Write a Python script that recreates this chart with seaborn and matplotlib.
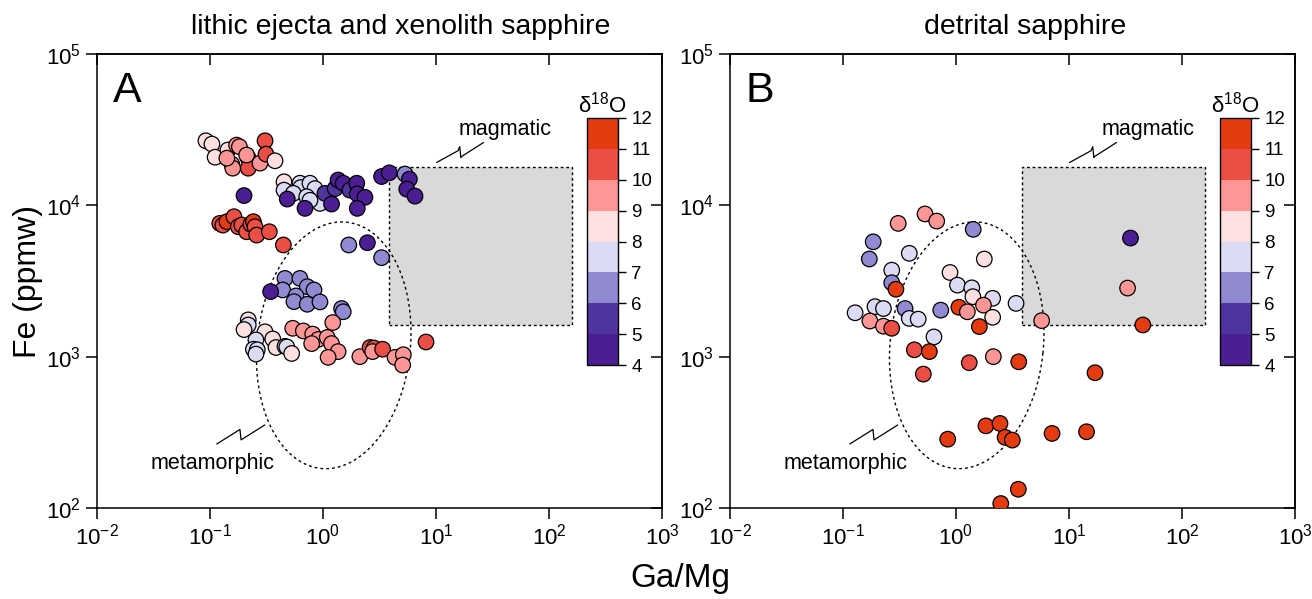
import numpy as np
import pandas as pd
import matplotlib
matplotlib.use("Agg")
import matplotlib.pyplot as plt
import seaborn as sns
from matplotlib.colors import ListedColormap, BoundaryNorm
from matplotlib.cm import ScalarMappable
from matplotlib.patches import Rectangle
from matplotlib.ticker import LogLocator, NullLocator, NullFormatter

# ---------------- data ----------------
# Panel A: lithic ejecta and xenolith sapphire
a_gamg = [0.092, 0.104, 0.111, 0.144, 0.172, 0.182, 0.156, 0.159, 0.141, 0.218, 0.218, 0.211, 0.277, 0.307, 0.313, 0.376,
          0.200,
          0.452, 0.452, 0.625, 0.635, 0.767, 0.849, 0.546, 0.718, 0.94, 0.767, 0.483, 0.693, 1.04, 1.19, 1.28, 1.36, 1.51,
          1.73, 1.99, 2.01, 2.35, 2.01, 3.30, 3.86, 5.32, 5.81, 5.51, 6.52,
          0.122, 0.130, 0.141, 0.163, 0.178, 0.191, 0.211, 0.230, 0.242, 0.250, 0.259, 0.335, 0.446,
          1.69, 2.47, 3.30,
          0.461, 0.625, 0.440, 0.344, 0.726, 0.832, 0.577, 0.553, 0.726, 0.94, 1.46, 1.51,
          1.22, 0.218, 0.218, 0.200, 0.540, 0.670, 0.307, 0.359, 0.811, 0.908, 0.794, 1.09, 1.19, 1.36, 1.11,
          0.255, 0.242, 0.262, 0.255, 0.384, 0.461, 0.478, 0.528, 2.12, 2.61, 2.83, 2.75, 3.37, 4.34, 5.14, 5.07, 8.16]
a_fe = [26700, 25400, 20800, 23200, 25000, 24400, 18700, 17600, 20500, 20500, 17600, 21500, 19000, 26700, 21800, 19700,
        11600,
        14300, 12600, 14000, 13100, 14000, 12900, 12000, 11400, 10300, 10800, 11000, 9550, 12000, 10200, 12900, 14700, 14000,
        12600, 14000, 11900, 11300, 9550, 15500, 16400, 16100, 14900, 12800, 11500,
        7600, 7400, 7800, 8410, 7220, 7410, 6690, 7500, 7800, 7220, 6360, 6690, 5470,
        5470, 5660, 4510,
        3290, 3290, 2760, 2690, 2900, 2760, 2520, 2310, 2220, 2300, 2080, 1980,
        1680, 1750, 1620, 1510, 1540, 1480, 1460, 1310, 1410, 1300, 1220, 1340, 1220, 1080, 990,
        1290, 1120, 1110, 1040, 1150, 1170, 1160, 1050, 1000, 1150, 1140, 1080, 1120, 990, 1030, 880, 1250]
a_d18o = [8.5, 8.5, 8.5, 8.5, 9.5, 9.5, 9.5, 9.5, 9.5, 9.5, 10.5, 9.5, 9.5, 10.5, 10.5, 8.5,
          4.5,
          8.5, 7.5, 7.5, 7.5, 7.5, 7.5, 7.5, 7.5, 7.5, 7.5, 4.5, 4.5, 5.5, 4.5, 5.5, 4.5, 4.5,
          5.5, 4.5, 4.5, 4.5, 4.5, 4.5, 4.5, 6.5, 4.5, 4.5, 4.5,
          10.5, 10.5, 11.5, 10.5, 10.5, 10.5, 10.5, 10.5, 11.5, 10.5, 10.5, 10.5, 10.5,
          6.5, 4.5, 6.5,
          6.5, 6.5, 6.5, 4.5, 6.5, 6.5, 6.5, 6.5, 6.5, 6.5, 6.5, 6.5,
          9.5, 8.5, 7.5, 8.5, 9.5, 9.5, 8.5, 8.5, 9.5, 9.5, 9.5, 9.5, 9.5, 9.5, 9.5,
          7.5, 7.5, 7.5, 7.5, 8.5, 7.5, 7.5, 8.5, 9.5, 10.5, 10.5, 9.5, 10.5, 9.5, 9.5, 9.5, 10.5]

# Panel B: detrital sapphire
b_gamg = [0.308, 0.532, 0.675, 1.42, 0.185, 0.171, 0.386, 1.78, 0.270, 0.885, 0.270, 0.294, 1.03, 1.38, 1.41, 2.11,
          3.40, 1.75, 1.06, 1.26, 2.11, 1.61, 5.73, 0.128, 0.192, 0.228, 0.354, 0.386, 0.463, 0.733, 0.173, 0.228,
          0.270, 0.638, 0.428, 0.581, 1.31, 2.14, 3.59, 0.514, 17.0, 1.84, 2.45, 2.72, 3.15, 0.845, 7.08, 14.3,
          3.56, 2.49, 35.0, 33.0, 45.0]
b_fe = [7600, 8770, 7870, 6940, 5740, 4420, 4820, 4420, 3730, 3600, 3080, 2790, 2970, 2850, 2490, 2430,
        2250, 2190, 2120, 1980, 1820, 1580, 1730, 1950, 2140, 2080, 2080, 1790, 1770, 2030, 1720, 1590,
        1540, 1350, 1110, 1080, 912, 1000, 925, 767, 783, 349, 362, 293, 281, 285, 311, 319,
        133, 107, 6080, 2840, 1620]
b_d18o = [9.5, 9.5, 9.5, 6.5, 6.5, 6.5, 7.5, 8.5, 7.5, 8.5, 6.5, 11.5, 7.5, 7.5, 8.5, 7.5,
          7.5, 9.5, 11.5, 9.5, 8.5, 11.5, 9.5, 7.5, 7.5, 7.5, 6.5, 7.5, 7.5, 6.5, 9.5, 9.5,
          10.5, 7.5, 10.5, 11.5, 10.5, 9.5, 11.5, 10.5, 11.5, 11.5, 11.5, 11.5, 11.5, 11.5, 11.5, 11.5,
          11.5, 11.5, 4.5, 9.5, 11.5]

d18o_bounds = [4, 5, 6, 7, 8, 9, 10, 11, 12]
d18o_colors = ["#4B1F93", "#50359F", "#908AD2", "#DBDBF4", "#FFE0E0", "#FE9696", "#EA4E45", "#E43B10"]
d18o_levels = [4.5, 5.5, 6.5, 7.5, 8.5, 9.5, 10.5, 11.5]

titles = ["lithic ejecta and xenolith sapphire", "detrital sapphire"]
letters = ["A", "B"]

# field outlines (log10 space) - magmatic box and metamorphic ellipse
magmatic_x = (3.8, 160.0)
magmatic_y = (1620.0, 18000.0)
ell_center = (0.095, 3.075)      # log10 Ga/Mg, log10 Fe
ell_semi = (0.678, 0.818)        # decades (x, y)
ell_tilt_deg = -6.0

# ---------------- style ----------------
sns.set_style("ticks")
plt.rcParams["font.family"] = ["Liberation Sans", "DejaVu Sans"]
plt.rcParams["mathtext.fontset"] = "custom"
plt.rcParams["mathtext.rm"] = "Liberation Sans"
plt.rcParams["mathtext.it"] = "Liberation Sans:italic"
plt.rcParams["mathtext.default"] = "regular"
for key in ("text.color", "axes.labelcolor", "xtick.color", "ytick.color", "axes.edgecolor"):
    plt.rcParams[key] = "black"

W, H = 1312, 599
fig = plt.figure(figsize=(W / 100, H / 100), dpi=100)

cmap = ListedColormap(d18o_colors)
norm = BoundaryNorm(d18o_bounds, cmap.N)
palette = dict(zip(d18o_levels, d18o_colors))

panels = [
    dict(x=a_gamg, y=a_fe, c=a_d18o, left=97, mag_text=(0.722, 0.833)),
    dict(x=b_gamg, y=b_fe, c=b_d18o, left=730, mag_text=(0.740, 0.833)),
]
ax_w, ax_b, ax_top = 565, 508, 54
cb_left = [587, 1220]


def fx(px):
    return px / W


def fy(py):
    return 1 - py / H


for i, p in enumerate(panels):
    ax = fig.add_axes([fx(p["left"]), fy(ax_b), ax_w / W, (ax_b - ax_top) / H])
    ax.set_xscale("log")
    ax.set_yscale("log")
    ax.set_xlim(1e-2, 1e3)
    ax.set_ylim(1e2, 1e5)

    # magmatic field
    ax.add_patch(Rectangle((magmatic_x[0], magmatic_y[0]), magmatic_x[1] - magmatic_x[0],
                           magmatic_y[1] - magmatic_y[0], facecolor="#D9D9D9", edgecolor="black",
                           linestyle=(0, (2, 2)), linewidth=1.0, zorder=1))
    # metamorphic field (ellipse in log space)
    t = np.linspace(0, 2 * np.pi, 400)
    th = np.deg2rad(ell_tilt_deg)
    ax_px = ell_semi[0] * 113.0
    ay_px = ell_semi[1] * 151.3
    ux = ax_px * np.cos(t)
    uy = ay_px * np.sin(t)
    rx = ux * np.cos(th) - uy * np.sin(th)
    ry = ux * np.sin(th) + uy * np.cos(th)
    ex = 10 ** (ell_center[0] + rx / 113.0)
    ey = 10 ** (ell_center[1] + ry / 151.3)
    ax.plot(ex, ey, color="black", linestyle=(0, (2, 2.2)), linewidth=1.0, zorder=1)

    df = pd.DataFrame({"GaMg": p["x"], "Fe": p["y"], "d18O": p["c"]})
    sns.scatterplot(data=df, x="GaMg", y="Fe", hue="d18O", palette=palette, s=125,
                    edgecolor="black", linewidth=0.9, legend=False, ax=ax, zorder=3)
    ax.set_xlabel("")
    ax.set_ylabel("")

    # leader lines + labels
    mag_line = [(0.601, 0.761), (0.639, 0.787), (0.642, 0.796), (0.644, 0.772), (0.645, 0.774), (0.684, 0.805)]
    met_line = [(0.212, 0.141), (0.253, 0.173), (0.255, 0.150), (0.297, 0.183)]
    for line in (mag_line, met_line):
        xs, ys = zip(*line)
        ax.plot(xs, ys, color="black", linewidth=0.9, transform=ax.transAxes, zorder=2)
    ax.text(p["mag_text"][0], p["mag_text"][1], "magmatic", transform=ax.transAxes,
            ha="center", va="center", fontsize=15.5)
    ax.text(0.205, 0.097, "metamorphic", transform=ax.transAxes,
            ha="center", va="center", fontsize=15.5)

    ax.text(0.028, 0.895, letters[i], transform=ax.transAxes, fontsize=31, ha="left", va="baseline")

    # ticks
    for axis in (ax.xaxis, ax.yaxis):
        axis.set_major_locator(LogLocator(base=10, numticks=10))
        axis.set_minor_locator(NullLocator())
    ax.tick_params(which="major", direction="out", length=8, width=1.1, labelsize=16,
                   top=False, right=False, colors="black")
    for s in ax.spines.values():
        s.set_visible(True)
        s.set_linewidth(1.1)
        s.set_color("black")

    sec_y = ax.secondary_yaxis("right")
    sec_y.yaxis.set_major_locator(LogLocator(base=10, numticks=10))
    sec_y.yaxis.set_minor_locator(NullLocator())
    sec_y.yaxis.set_major_formatter(NullFormatter())
    sec_y.tick_params(direction="in", length=8, width=1.1)
    sec_y.spines["right"].set_linewidth(1.1)
    sec_x = ax.secondary_xaxis("top")
    sec_x.xaxis.set_major_locator(LogLocator(base=10, numticks=10))
    sec_x.xaxis.set_minor_locator(NullLocator())
    sec_x.xaxis.set_major_formatter(NullFormatter())
    sec_x.tick_params(direction="in", length=8, width=1.1)
    sec_x.spines["top"].set_linewidth(1.1)

    # colorbar
    cax = fig.add_axes([fx(cb_left[i]), fy(365), 31 / W, (365 - 118) / H])
    sm = ScalarMappable(norm=norm, cmap=cmap)
    cb = fig.colorbar(sm, cax=cax, ticks=d18o_bounds)
    cb.outline.set_linewidth(1.0)
    cb.ax.tick_params(labelsize=13.5, length=6, width=1.0, direction="out", colors="black")
    cb.ax.minorticks_off()
    cax.set_title(r"$\delta^{18}$O", fontsize=16, pad=4)

# titles and axis labels
fig.text(401 / W, fy(27), titles[0], ha="center", va="center", fontsize=20.5)
fig.text(1025 / W, fy(27), titles[1], ha="center", va="center", fontsize=20.5)
fig.text(28 / W, fy(281), "Fe (ppmw)", rotation=90, ha="center", va="center", fontsize=23)
fig.text(680 / W, fy(578), "Ga/Mg", ha="center", va="center", fontsize=24)

fig.savefig("out.png", dpi=100)
